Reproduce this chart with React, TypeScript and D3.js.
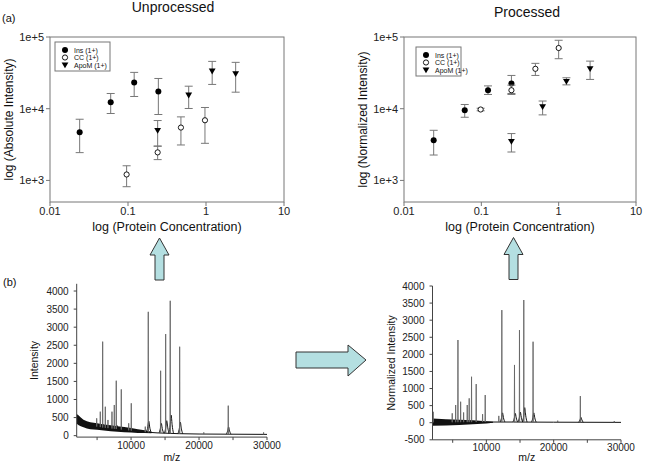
import React from "react";
import * as d3 from "d3";

// ---------- Scatter data (log-log) ----------
const concTicks = [0.01, 0.1, 1, 10];
const concTickLabels = ["0.01", "0.1", "1", "10"];
const intTicks = [1e3, 1e4, 1e5];
const intTickLabels = ["1e+3", "1e+4", "1e+5"];
const seriesNames = ["Ins (1+)", "CC (1+)", "ApoM (1+)"];

// Unprocessed
const insRawConc = [0.024, 0.06, 0.12, 0.245];
const insRawMean = [4700, 12300, 23200, 17400];
const insRawLo = [2440, 8570, 14800, 8300];
const insRawHi = [7130, 16300, 32100, 26400];
const ccRawConc = [0.096, 0.24, 0.477, 0.97];
const ccRawMean = [1210, 2460, 5460, 6900];
const ccRawLo = [817, 1950, 3120, 3290];
const ccRawHi = [1600, 3020, 7690, 10400];
const apoRawConc = [0.24, 0.6, 1.2, 2.4];
const apoRawMean = [4960, 15450, 33400, 30700];
const apoRawLo = [2990, 10070, 21800, 17000];
const apoRawHi = [6840, 20600, 45700, 44300];

// Processed
const insProcConc = [0.0242, 0.061, 0.122, 0.245];
const insProcMean = [3630, 9530, 18100, 22500];
const insProcLo = [2260, 7600, 15800, 16300];
const insProcHi = [5000, 11450, 20800, 29100];
const ccProcConc = [0.098, 0.245, 0.5, 1.0];
const ccProcMean = [9750, 18100, 36000, 70200];
const ccProcLo = [9350, 15800, 29100, 49800];
const ccProcHi = [10150, 21300, 42900, 90000];
const apoProcConc = [0.245, 0.62, 1.26, 2.55];
const apoProcMean = [3480, 10600, 24000, 36000];
const apoProcLo = [2490, 8200, 21500, 25600];
const apoProcHi = [4500, 12800, 27000, 46100];

// ---------- Spectrum data ----------
const mzTicks = [5000, 10000, 15000, 20000, 25000, 30000];
const mzTickLabels = ["", "10000", "", "20000", "", "30000"];
const rawIntTicks = [0, 500, 1000, 1500, 2000, 2500, 3000, 3500, 4000];
const procIntTicks = [-500, 0, 500, 1000, 1500, 2000, 2500, 3000, 3500, 4000];

const rawPeakMz = [4940, 5470, 5820, 6210, 6600, 7190, 7530, 7820, 8560, 9650, 10030, 12090, 12530, 14350, 15090, 15760, 17150, 20700, 24300, 29500];
const rawPeakI = [480, 663, 2600, 800, 434, 663, 848, 1520, 1280, 342, 895, 250, 3425, 1795, 2810, 3730, 2460, 90, 830, 90];
const rawBumpMz = [5900, 7900, 12600, 14450, 15250, 15900, 17250, 24350];
const rawBumpI = [330, 320, 500, 420, 520, 720, 470, 300];
const rawBaseMz = [2000, 2500, 3000, 4000, 5000, 6000, 8000, 10000, 12000, 14000, 17000, 20000, 25000, 30000];
const rawBaseI = [480, 400, 340, 280, 250, 220, 180, 140, 100, 75, 55, 45, 40, 35];
const rawNoiseMz = [2000, 2300, 2600, 3000, 3500, 4000, 5000, 6000, 7000, 8000, 9000, 10000, 11000, 12000, 13000];
const rawNoiseHi = [600, 560, 500, 440, 400, 370, 340, 310, 290, 260, 240, 210, 180, 150, 110];
const rawNoiseLo = [330, 290, 260, 230, 200, 180, 160, 140, 125, 110, 95, 85, 75, 70, 65];

const procPeakMz = [2100, 4930, 5440, 5780, 6180, 6620, 7160, 7450, 7800, 8490, 9440, 9830, 11850, 12300, 14180, 14920, 15560, 16940, 20600, 23960, 29000];
const procPeakI = [320, 275, 518, 2420, 614, 300, 518, 713, 1345, 1130, 250, 810, 200, 3295, 1690, 2710, 3590, 2370, 60, 780, 50];
const procBumpMz = [12400, 14300, 15050, 15700, 17050, 24050];
const procBumpI = [370, 350, 400, 570, 370, 200];
const procBaseMz = [2000, 6000, 10000, 14000, 20000, 30000];
const procBaseI = [10, 15, 20, 20, 15, 10];
const procNoiseMz = [2000, 4000, 6000, 8000, 10000, 11000];
const procNoiseHi = [120, 100, 90, 70, 45, 25];
const procNoiseLo = [-90, -80, -65, -45, -20, 0];

const FONT = "'Liberation Sans', Arial, Helvetica, sans-serif";

type Series = { conc: number[]; mean: number[]; lo: number[]; hi: number[] };

function Marker({ kind, x, y }: { kind: number; x: number; y: number }) {
  if (kind === 0) return <circle cx={x} cy={y} r={3} fill="#000" />;
  if (kind === 1) return <circle cx={x} cy={y} r={2.6} fill="#fff" stroke="#000" strokeWidth={0.9} />;
  const s = 3.4;
  return <path d={`M${x - s},${y - s * 0.75}L${x + s},${y - s * 0.75}L${x},${y + s * 0.95}Z`} fill="#000" />;
}

function ScatterPanel(props: {
  x0: number; x1: number; y0: number; y1: number;
  series: Series[]; yLabel: string; title: string; titleX: number; titleY: number;
  legend: { x: number; y: number; w: number; h: number };
}) {
  const { x0, x1, y0, y1, series, yLabel, title, titleX, titleY, legend } = props;
  const x = d3.scaleLog().domain([0.01, 10]).range([x0, x1]);
  const y = d3.scaleLog().domain([500, 1e5]).range([y1, y0]);
  const cx = (x0 + x1) / 2;
  const cy = (y0 + y1) / 2;
  return (
    <g fontFamily={FONT}>
      <text x={titleX} y={titleY} fontSize={14} textAnchor="middle" fill="#111">{title}</text>
      <rect x={x0} y={y0} width={x1 - x0} height={y1 - y0} fill="none" stroke="#777" strokeWidth={1} />
      {concTicks.map((t, i) => (
        <g key={"xt" + i}>
          <line x1={x(t)} x2={x(t)} y1={y1} y2={y1 + 4} stroke="#777" />
          <text x={x(t)} y={y1 + 13} fontSize={11} textAnchor="middle" fill="#222">{concTickLabels[i]}</text>
        </g>
      ))}
      {intTicks.map((t, i) => (
        <g key={"yt" + i}>
          <line x1={x0 - 4} x2={x0} y1={y(t)} y2={y(t)} stroke="#777" />
          <text x={x0 - 6} y={y(t) + 4} fontSize={11} textAnchor="end" fill="#222">{intTickLabels[i]}</text>
        </g>
      ))}
      <text x={cx} y={y1 + 29} fontSize={12.5} textAnchor="middle" fill="#111">log (Protein Concentration)</text>
      <text transform={`translate(${x0 - 37},${cy}) rotate(-90)`} fontSize={12} textAnchor="middle" fill="#111">{yLabel}</text>
      {series.map((s, si) => (
        <g key={"s" + si}>
          {s.conc.map((c, i) => (
            <g key={i}>
              <line x1={x(c)} x2={x(c)} y1={y(s.lo[i])} y2={y(s.hi[i])} stroke="#777" strokeWidth={1} />
              <line x1={x(c) - 4} x2={x(c) + 4} y1={y(s.lo[i])} y2={y(s.lo[i])} stroke="#777" strokeWidth={1} />
              <line x1={x(c) - 4} x2={x(c) + 4} y1={y(s.hi[i])} y2={y(s.hi[i])} stroke="#777" strokeWidth={1} />
              <Marker kind={si} x={x(c)} y={y(s.mean[i])} />
            </g>
          ))}
        </g>
      ))}
      <rect x={legend.x} y={legend.y} width={legend.w} height={legend.h} fill="#fff" stroke="#777" strokeWidth={1} />
      {seriesNames.map((n, i) => (
        <g key={"lg" + i}>
          <Marker kind={i} x={legend.x + 10} y={legend.y + 8 + i * 7.5} />
          <text x={legend.x + 19} y={legend.y + 10.5 + i * 7.5} fontSize={7} fill="#111">{n}</text>
        </g>
      ))}
    </g>
  );
}

function SpectrumPanel(props: {
  x0: number; x1: number; yDom: [number, number]; yTop: number; yBot: number;
  yTicks: number[]; yLabel: string; yLabelX: number;
  peakMz: number[]; peakI: number[]; bumpMz: number[]; bumpI: number[];
  baseMz: number[]; baseI: number[]; noiseMz: number[]; noiseHi: number[]; noiseLo: number[];
}) {
  const p = props;
  const x = d3.scaleLinear().domain([2000, 30000]).range([p.x0, p.x1]);
  const y = d3.scaleLinear().domain(p.yDom).range([p.yBot, p.yTop]);
  const base = d3.scaleLinear().domain(p.baseMz).range(p.baseI).clamp(true);
  const line = d3.line<[number, number]>().x((d) => x(d[0])).y((d) => y(d[1]));
  const smooth = d3.line<[number, number]>().x((d) => x(d[0])).y((d) => y(d[1])).curve(d3.curveBasis);
  const area = d3.area<number>()
    .x((_, i) => x(p.noiseMz[i]))
    .y0((_, i) => y(p.noiseLo[i]))
    .y1((_, i) => y(p.noiseHi[i]));
  const basePts: [number, number][] = p.baseMz.map((m, i) => [m, p.baseI[i]]);
  return (
    <g fontFamily={FONT}>
      <path d={area(p.noiseMz) || ""} fill="#111" />
      <path d={line(basePts) || ""} fill="none" stroke="#111" strokeWidth={1} />
      {p.bumpMz.map((m, i) => {
        const pts: [number, number][] = [
          [m - 350, base(m - 350)], [m - 120, base(m) + (p.bumpI[i] - base(m)) * 0.3],
          [m, p.bumpI[i]], [m + 120, base(m) + (p.bumpI[i] - base(m)) * 0.3], [m + 350, base(m + 350)],
        ];
        return <path key={"b" + i} d={smooth(pts) || ""} fill="none" stroke="#111" strokeWidth={1} />;
      })}
      {p.peakMz.map((m, i) => {
        const pts: [number, number][] = [[m - 30, base(m - 30)], [m, p.peakI[i]], [m + 30, base(m + 30)]];
        return <path key={"p" + i} d={line(pts) || ""} fill="none" stroke="#666" strokeWidth={0.9} />;
      })}
      <line x1={p.x0} x2={p.x0} y1={p.yTop} y2={p.yBot} stroke="#444" />
      <line x1={p.x0} x2={p.x1} y1={p.yBot} y2={p.yBot} stroke="#444" />
      {p.yTicks.map((t) => (
        <g key={"yt" + t}>
          <line x1={p.x0 - 3} x2={p.x0} y1={y(t)} y2={y(t)} stroke="#444" />
          <text x={p.x0 - 8} y={y(t) + 3.5} fontSize={10} textAnchor="end" fill="#222">{t}</text>
        </g>
      ))}
      {mzTicks.map((t, i) => (
        <g key={"xt" + t}>
          <line x1={x(t)} x2={x(t)} y1={p.yBot} y2={p.yBot + 3} stroke="#444" />
          <text x={x(t)} y={p.yBot + 11.5} fontSize={10} textAnchor="middle" fill="#222">{mzTickLabels[i]}</text>
        </g>
      ))}
      <text x={(p.x0 + p.x1) / 2} y={461} fontSize={10.5} textAnchor="middle" fill="#111">m/z</text>
      <text transform={`translate(${p.yLabelX},${(p.yTop + p.yBot) / 2}) rotate(-90)`} fontSize={10.5} textAnchor="middle" fill="#111">{p.yLabel}</text>
    </g>
  );
}

function UpArrow({ cx, top, bottom }: { cx: number; top: number; bottom: number }) {
  const hb = top + 17;
  const d = `M${cx},${top}L${cx + 9.5},${hb}L${cx + 4.5},${hb}L${cx + 4.5},${bottom}L${cx - 4.5},${bottom}L${cx - 4.5},${hb}L${cx - 9.5},${hb}Z`;
  return <path d={d} fill="#b4dfe1" stroke="#333" strokeWidth={1} />;
}

export default function App() {
  const rawSeries: Series[] = [
    { conc: insRawConc, mean: insRawMean, lo: insRawLo, hi: insRawHi },
    { conc: ccRawConc, mean: ccRawMean, lo: ccRawLo, hi: ccRawHi },
    { conc: apoRawConc, mean: apoRawMean, lo: apoRawLo, hi: apoRawHi },
  ];
  const procSeries: Series[] = [
    { conc: insProcConc, mean: insProcMean, lo: insProcLo, hi: insProcHi },
    { conc: ccProcConc, mean: ccProcMean, lo: ccProcLo, hi: ccProcHi },
    { conc: apoProcConc, mean: apoProcMean, lo: apoProcLo, hi: apoProcHi },
  ];
  return (
    <svg width={646} height={462} style={{ position: "absolute", left: 0, top: 0, background: "#fff" }}>
      <rect width={646} height={462} fill="#fff" />
      <text x={2} y={22} fontSize={11} fontFamily={FONT} fill="#111">(a)</text>
      <text x={3} y={286} fontSize={11} fontFamily={FONT} fill="#111">(b)</text>
      <ScatterPanel x0={50} x1={284} y0={37} y1={202} series={rawSeries}
        yLabel="log (Absolute Intensity)" title="Unprocessed" titleX={173} titleY={12}
        legend={{ x: 55, y: 42, w: 55, h: 29 }} />
      <ScatterPanel x0={404} x1={636} y0={37} y1={202} series={procSeries}
        yLabel="log (Normalized Intensity)" title="Processed" titleX={527} titleY={17}
        legend={{ x: 416, y: 47, w: 45, h: 29 }} />
      <UpArrow cx={159.5} top={238} bottom={280} />
      <UpArrow cx={513.5} top={237.5} bottom={279.5} />
      <path d="M296,352L348,352L348,345L366,360L348,376L348,368L296,368Z" fill="#b4dfe1" stroke="#333" strokeWidth={1} />
      <SpectrumPanel x0={76.7} x1={267} yDom={[-40, 4200]} yTop={283.8} yBot={437.1}
        yTicks={rawIntTicks} yLabel="Intensity" yLabelX={38}
        peakMz={rawPeakMz} peakI={rawPeakI} bumpMz={rawBumpMz} bumpI={rawBumpI}
        baseMz={rawBaseMz} baseI={rawBaseI} noiseMz={rawNoiseMz} noiseHi={rawNoiseHi} noiseLo={rawNoiseLo} />
      <SpectrumPanel x0={432.5} x1={621} yDom={[-500, 4000]} yTop={286} yBot={439.8}
        yTicks={procIntTicks} yLabel="Normalized Intensity" yLabelX={395}
        peakMz={procPeakMz} peakI={procPeakI} bumpMz={procBumpMz} bumpI={procBumpI}
        baseMz={procBaseMz} baseI={procBaseI} noiseMz={procNoiseMz} noiseHi={procNoiseHi} noiseLo={procNoiseLo} />
    </svg>
  );
}
